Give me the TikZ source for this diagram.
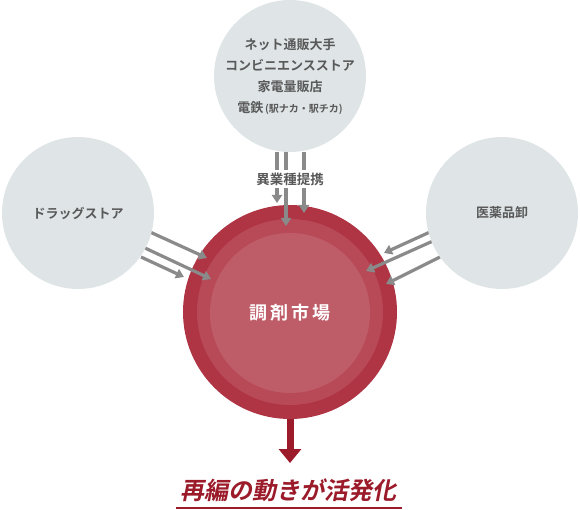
\documentclass[tikz,border=0pt]{standalone}
\usepackage{fontspec}
\newfontfamily\jp{Noto Sans CJK JP}
\newfontfamily\jpb{Noto Sans CJK JP Bold}
\newfontfamily\jpit[FakeSlant=0.2]{Noto Sans CJK JP Bold}
\usetikzlibrary{arrows.meta}
\definecolor{bubble}{HTML}{DFE5E7}
\definecolor{txtgray}{HTML}{595959}
\definecolor{arrgray}{HTML}{8A8A8A}
\definecolor{redA}{HTML}{AF3444}
\definecolor{redB}{HTML}{B84A57}
\definecolor{redC}{HTML}{BE5C68}
\definecolor{darkred}{HTML}{9B1B2A}
\tikzset{
  bubblenode/.style={circle, fill=bubble, minimum size=152pt, inner sep=0pt, align=center, text=txtgray, font=\jpb\fontsize{13}{21}\selectfont},
  grayarrow/.style={draw=arrgray, line width=3.2pt, -{Triangle[length=8pt,width=10pt]}},
  grayline/.style={draw=arrgray, line width=3.2pt},
}
\begin{document}
\begin{tikzpicture}[x=1pt,y=-1pt]
\useasboundingbox (0,0) rectangle (580,510);
% central market circle
\node[circle, fill=redA, minimum size=214pt, inner sep=0pt] (mkt) at (290,312) {};
\node[circle, fill=redB, minimum size=186pt, inner sep=0pt] (mktB) at (290,312) {};
\node[circle, fill=redC, minimum size=160pt, inner sep=0pt, text=white, font=\jpb\fontsize{18}{20}\selectfont] (mktC) at (290,313) {調\,剤\,市\,場};
% coordinates of arrows
\coordinate (t1s) at (277,152); \coordinate (t1e) at (277,203);
\coordinate (t2s) at (286,152); \coordinate (t2e) at (286,226);
\coordinate (t3s) at (304,152); \coordinate (t3e) at (304,213);
\coordinate (l1s) at (150,232); \coordinate (l1e) at (207,258);
\coordinate (l2s) at (145,248); \coordinate (l2e) at (211,279);
\coordinate (l3s) at (141,257); \coordinate (l3e) at (184,277);
\coordinate (r1s) at (430,232); \coordinate (r1e) at (384,253);
\coordinate (r2s) at (433,241); \coordinate (r2e) at (366,271);
\coordinate (r3s) at (440,257); \coordinate (r3e) at (386,284);
\draw[grayarrow] (t1s) -- (t1e);
\draw[grayarrow] (t2s) -- (t2e);
\draw[grayarrow] (t3s) -- (t3e);
\draw[grayarrow] (l1s) -- (l1e);
\draw[grayarrow] (l2s) -- (l2e);
\draw[grayarrow] (l3s) -- (l3e);
\draw[grayarrow] (r1s) -- (r1e);
\draw[grayarrow] (r2s) -- (r2e);
\draw[grayarrow] (r3s) -- (r3e);
% bubbles
\node[bubblenode] (top) at (290,76) {ネット通販大手\\コンビニエンスストア\\家電量販店\\電鉄{\fontsize{10}{12}\selectfont\,(駅ナカ・駅チカ)}};
\node[bubblenode] (left) at (78,213) {ドラッグストア};
\node[bubblenode] (right) at (502,213) {医薬品卸};
% label
\node[fill=white, inner sep=3pt, text=txtgray, font=\jpb\fontsize{13.5}{15}\selectfont] (alliance) at (290,179) {異業種提携};
% result arrow
\coordinate (resEnd) at (290,463);
\draw[darkred, line width=7pt, -{Triangle[length=14pt,width=22pt]}] (mkt.south) -- (resEnd);
\node[text=darkred, font=\jpit\fontsize{24}{26}\selectfont] (result) at (288,490) {再編の動きが活発化};
\coordinate (ulL) at (176,508); \coordinate (ulR) at (402,508);
\draw[darkred, line width=2pt] (ulL) -- (ulR);
\end{tikzpicture}
\end{document}
